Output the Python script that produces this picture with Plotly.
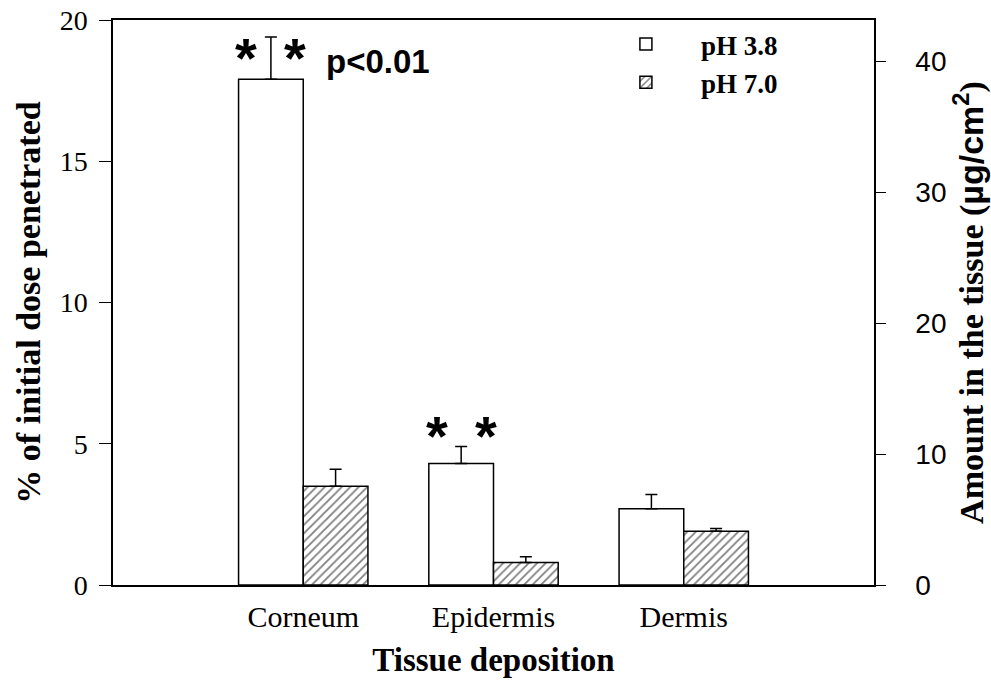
import plotly.graph_objects as go

categories = ["Corneum", "Epidermis", "Dermis"]
ph38_values = [17.9, 4.3, 2.7]
ph38_errors = [1.5, 0.6, 0.5]
ph70_values = [3.5, 0.8, 1.9]
ph70_errors = [0.6, 0.2, 0.1]
left_ticks = [0, 5, 10, 15, 20]
right_ticks = [0, 10, 20, 30, 40]
series_names = ["<b>pH 3.8</b>", "<b>pH 7.0</b>"]
# right axis: amount in tissue (ug/cm2) corresponding to 20 % of initial dose
amount_at_20pct = 43.13

SERIF = "Liberation Serif, Times New Roman, serif"
SANS = "Liberation Sans, Arial, sans-serif"

fig = go.Figure()
fig.add_trace(go.Bar(
    x=categories, y=ph38_values, name=series_names[0],
    marker=dict(color="white", line=dict(color="black", width=1.5)),
    error_y=dict(type="data", symmetric=False, array=ph38_errors,
                 arrayminus=[0, 0, 0], color="black", thickness=1.5, width=6),
))
fig.add_trace(go.Bar(
    x=categories, y=ph70_values, name=series_names[1],
    marker=dict(color="white", line=dict(color="black", width=1.5),
                pattern=dict(shape="/", fgcolor="black", bgcolor="white",
                             size=6, solidity=0.3)),
    error_y=dict(type="data", symmetric=False, array=ph70_errors,
                 arrayminus=[0, 0, 0], color="black", thickness=1.5, width=6),
))
# invisible trace that carries the right-hand axis (amount in tissue)
fig.add_trace(go.Scatter(
    x=categories, y=[v * amount_at_20pct / 20 for v in ph38_values],
    yaxis="y2", mode="markers", marker=dict(opacity=0), showlegend=False,
    hoverinfo="skip",
))

# significance marks
star_font = dict(family=SANS, size=56, color="black")
for cat, val, err, ys in [(categories[0], ph38_values[0], ph38_errors[0], -21),
                          (categories[1], ph38_values[1], ph38_errors[1], 11)]:
    for dx in (-24, 25):
        fig.add_annotation(x=cat, y=val + err, xref="x", yref="y", text="<b>*</b>",
                           showarrow=False, font=star_font, xshift=dx - 33, yshift=ys,
                           xanchor="center", yanchor="middle")
fig.add_annotation(x=categories[0], y=ph38_values[0] + ph38_errors[0], xref="x", yref="y",
                   text="<b>p<0.01</b>", showarrow=False,
                   font=dict(family=SANS, size=33, color="black"),
                   xanchor="left", yanchor="middle", xshift=21, yshift=-25)

fig.update_layout(
    width=991, height=682,
    margin=dict(l=113, r=117, t=20, b=97, autoexpand=False),
    paper_bgcolor="white", plot_bgcolor="white",
    barmode="group", bargap=0.32, bargroupgap=0,
    showlegend=True,
    legend=dict(x=0.628, y=1.0, xanchor="left", yanchor="top",
                font=dict(family=SERIF, size=27, color="black"),
                bgcolor="rgba(0,0,0,0)", borderwidth=0, tracegroupgap=0,
                itemwidth=100),
    xaxis=dict(range=[-1, 3], showline=True, linecolor="black", linewidth=1.5,
               mirror=True, ticks="", showgrid=False, zeroline=False, automargin=False,
               ticklabelstandoff=4,
               tickfont=dict(family=SERIF, size=30, color="black"),
               title=dict(text="<b>Tissue deposition</b>",
                          font=dict(family=SERIF, size=33, color="black"), standoff=16)),
    yaxis=dict(range=[0, 20], tickvals=left_ticks, showline=True, linecolor="black",
               linewidth=1.5, ticks="outside", ticklen=12, tickwidth=1.2, tickcolor="black",
               showgrid=False, zeroline=False, automargin=False, ticklabelstandoff=6,
               tickfont=dict(family=SERIF, size=28, color="black"),
               title=dict(text="<b>% of initial dose penetrated</b>",
                          font=dict(family=SERIF, size=34, color="black"), standoff=9)),
    yaxis2=dict(range=[0, amount_at_20pct], tickvals=right_ticks, overlaying="y", side="right",
                anchor="x", showline=True, linecolor="black", linewidth=1.5,
                ticks="outside", ticklen=10, tickwidth=1.2, tickcolor="black",
                showgrid=False, zeroline=False, automargin=False, ticklabelstandoff=24,
                tickfont=dict(family=SANS, size=28, color="black"),
                title=dict(text="<b>Amount in the tissue (<span style=\"font-family:Liberation Sans\">µg/cm<sup>2</sup></span>)</b>",
                           font=dict(family=SERIF, size=34, color="black"), standoff=2)),
)

fig.write_html("out.html")
